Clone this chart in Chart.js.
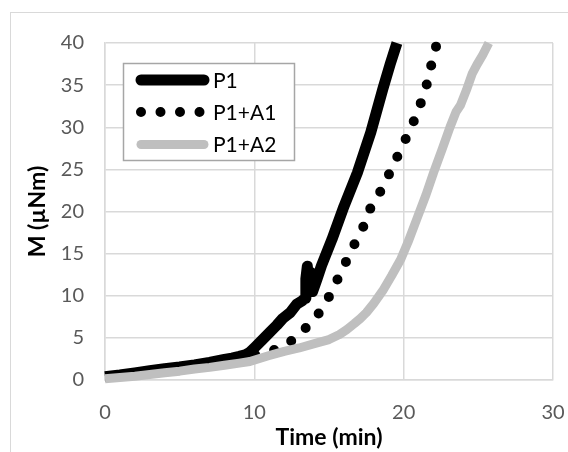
<!DOCTYPE html>
<html><head><meta charset="utf-8">
<script src="https://cdn.jsdelivr.net/npm/chart.js@4"></script>
<style>html,body{margin:0;padding:0;background:#fff}#wrap{width:568px;height:452px}</style>
</head><body><div id="wrap"><canvas id="c" width="568" height="452"></canvas></div>
<script>
// ---- data ----
const xTicks = [0, 10, 20, 30];
const yTicks = [0, 5, 10, 15, 20, 25, 30, 35, 40];
const seriesNames = ['P1', 'P1+A1', 'P1+A2'];
const xTitle = 'Time (min)';
const yTitle = 'M (µNm)';

const p1X = [0, 1, 2, 3, 4, 5, 6, 7, 8, 8.5, 9, 9.4, 9.7, 10.05, 10.5, 11.06, 11.5, 11.9, 12.4, 12.84, 13.2, 13.4, 13.45, 13.55, 13.65, 13.75, 13.9, 14.2, 14.5, 15.2, 16, 16.9, 17.8, 18.6, 19.1, 19.55];
const p1Y = [0.4, 0.6, 0.85, 1.1, 1.35, 1.55, 1.8, 2.1, 2.45, 2.6, 2.8, 3.0, 3.3, 3.9, 4.7, 5.7, 6.5, 7.3, 8.0, 9.0, 9.4, 9.7, 12, 13.5, 10.5, 12.8, 10.5, 12, 13.6, 16.7, 20.6, 24.6, 29.4, 34.5, 37.5, 40];

const a1X = [0, 2, 4, 6, 8, 9, 10.1, 11.4, 12.45, 13.4, 14.27, 14.97, 15.53, 16.1, 16.7, 17.3, 17.78, 18.45, 19.04, 19.6, 20.16, 20.72, 21.17, 21.58, 21.88, 22.2];
const a1Y = [0.3, 0.7, 1.1, 1.5, 2.1, 2.5, 3.0, 3.6, 4.6, 6.1, 7.8, 9.8, 11.8, 13.9, 16.1, 18.2, 20.4, 22.4, 24.5, 26.6, 28.7, 30.9, 33.0, 35.3, 37.6, 39.8];

const a2X = [0, 1, 2, 3, 4, 5, 6, 7, 8, 9, 9.7, 11, 12, 13, 14.2, 15, 15.7, 16.2, 16.7, 17.1, 17.5, 18, 18.6, 19.2, 19.8, 20.3, 20.9, 21.5, 22, 22.6, 23.1, 23.5, 23.8, 24.2, 24.6, 24.9, 25.3, 25.7];
const a2Y = [0.15, 0.3, 0.45, 0.65, 0.85, 1.05, 1.3, 1.5, 1.75, 2.0, 2.2, 2.9, 3.4, 3.8, 4.4, 4.8, 5.4, 6.0, 6.7, 7.3, 8.0, 9.1, 10.6, 12.4, 14.3, 16.4, 19.2, 22.0, 24.6, 27.5, 30.0, 31.8, 32.6, 34.4, 36.4, 37.4, 38.6, 40];

const pts = (xs, ys) => xs.map((x, i) => ({x, y: ys[i]}));
const FONT = 'Lato';

const frame = {
  id: 'frame',
  beforeDraw(chart) {
    const ctx = chart.ctx;
    ctx.save();
    ctx.fillStyle = '#fff';
    ctx.fillRect(0, 0, chart.width, chart.height);
    ctx.strokeStyle = '#d9d9d9';
    ctx.lineWidth = 1;
    ctx.strokeRect(10.5, 12.5, 700, 600);
    ctx.restore();
  }
};

const legendBox = {
  id: 'legendBox',
  afterDatasetsDraw(chart) {
    const ctx = chart.ctx;
    const ds = chart.data.datasets;
    const bx = 123.5, by = 63.5, bw = 171, bh = 97;
    ctx.save();
    ctx.fillStyle = '#fff';
    ctx.fillRect(bx, by, bw, bh);
    ctx.strokeStyle = '#a6a6a6';
    ctx.lineWidth = 1.5;
    ctx.strokeRect(bx, by, bw, bh);
    const rows = [80, 112, 144.5];
    ds.forEach((d, i) => {
      const y = rows[i];
      ctx.beginPath();
      ctx.strokeStyle = d.borderColor;
      ctx.lineWidth = d.borderWidth;
      ctx.lineCap = 'round';
      ctx.setLineDash(d.borderDash || []);
      if (d.borderDash && d.borderDash.length) {
        ctx.moveTo(141, y); ctx.lineTo(202, y);
      } else {
        ctx.moveTo(141, y); ctx.lineTo(204, y);
      }
      ctx.stroke();
      ctx.setLineDash([]);
      ctx.fillStyle = '#000';
      ctx.font = '21px ' + FONT;
      ctx.textBaseline = 'middle';
      ctx.textAlign = 'left';
      ctx.fillText(d.label, 213, y + 1);
    });
    ctx.restore();
  }
};

new Chart(document.getElementById('c'), {
  type: 'line',
  data: {
    datasets: [
      { label: seriesNames[0], data: pts(p1X, p1Y), borderColor: '#000', borderWidth: 11,
        borderCapStyle: 'butt', borderJoinStyle: 'round', pointRadius: 0, tension: 0, order: 1, clip: false },
      { label: seriesNames[1], data: pts(a1X, a1Y), borderColor: '#000', borderWidth: 10,
        borderDash: [0, 19.5], borderDashOffset: -15.5, borderCapStyle: 'round', pointRadius: 0, tension: 0.3, order: 2, clip: false },
      { label: seriesNames[2], data: pts(a2X, a2Y), borderColor: '#bfbfbf', borderWidth: 9,
        borderCapStyle: 'butt', borderJoinStyle: 'round', pointRadius: 0, tension: 0, order: 0, clip: false }
    ]
  },
  options: {
    responsive: false,
    animation: false,
    devicePixelRatio: 1,
    layout: { padding: { top: 43, right: 15, left: 0, bottom: 0 } },
    plugins: { legend: { display: false }, tooltip: { enabled: false } },
    scales: {
      x: {
        type: 'linear', min: 0, max: 30,
        afterBuildTicks: s => { s.ticks = xTicks.map(v => ({value: v})); },
        afterFit: s => { s.height = 72; s.paddingLeft = 0; s.paddingRight = 0; },
        grid: { color: '#d9d9d9', lineWidth: 1.5, drawTicks: false },
        border: { color: '#d9d9d9', width: 1.5 },
        ticks: { color: '#595959', font: { family: FONT, size: 20 }, padding: 21, maxRotation: 0 },
        title: { display: true, text: xTitle, color: '#000', font: { family: FONT, size: 23, weight: 'bold' }, padding: { top: 0, bottom: 1 } }
      },
      y: {
        min: 0, max: 40,
        afterBuildTicks: s => { s.ticks = yTicks.map(v => ({value: v})); },
        afterFit: s => { s.width = 105; s.paddingTop = 0; s.paddingBottom = 0; },
        grid: { color: '#d9d9d9', lineWidth: 1.5, drawTicks: false },
        border: { color: '#d9d9d9', width: 1.5 },
        ticks: { color: '#595959', font: { family: FONT, size: 20 }, padding: 21 },
        title: { display: true, text: yTitle, color: '#000', font: { family: FONT, size: 23, weight: 'bold' }, padding: { top: 24, bottom: 0 } }
      }
    }
  },
  plugins: [frame, legendBox]
});
</script></body></html>
